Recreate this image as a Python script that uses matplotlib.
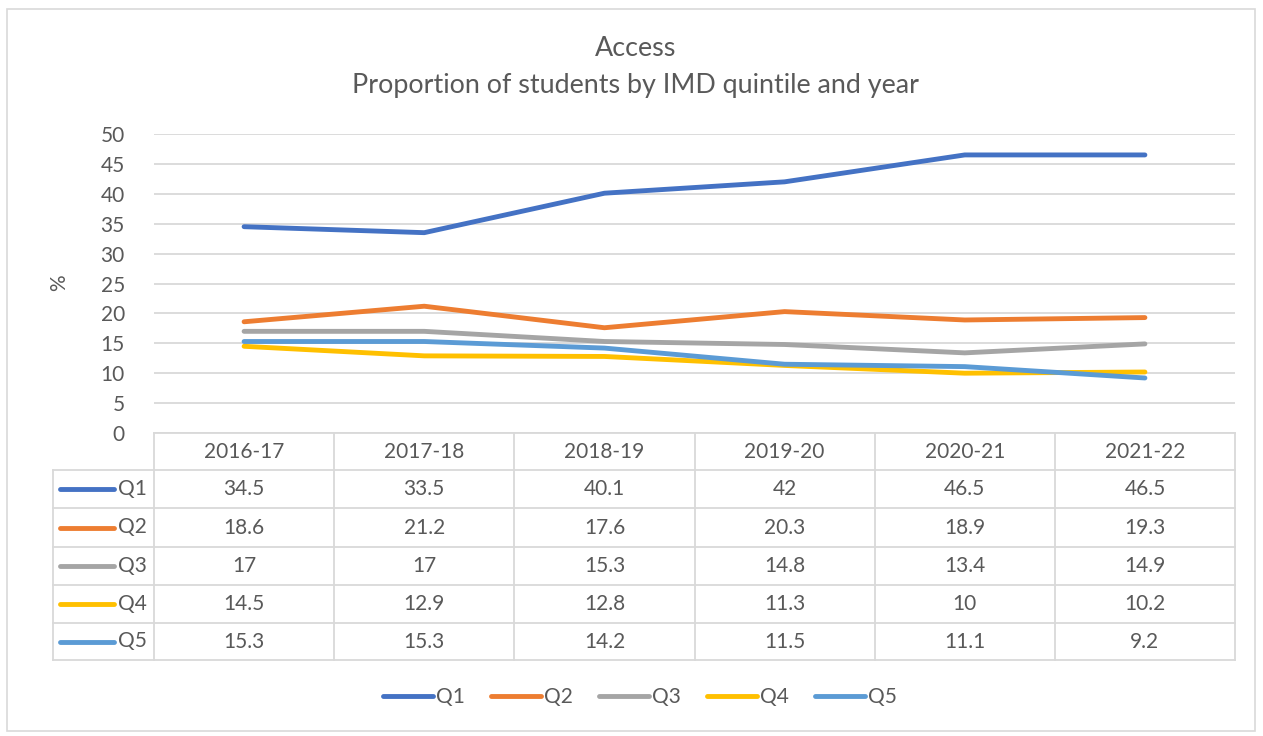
import matplotlib.pyplot as plt
from matplotlib.lines import Line2D
from matplotlib.patches import Rectangle

plt.rcParams['font.family'] = ['Lato', 'DejaVu Sans']

years = ["2016-17", "2017-18", "2018-19", "2019-20", "2020-21", "2021-22"]
series_names = ["Q1", "Q2", "Q3", "Q4", "Q5"]
q1 = [34.5, 33.5, 40.1, 42, 46.5, 46.5]
q2 = [18.6, 21.2, 17.6, 20.3, 18.9, 19.3]
q3 = [17, 17, 15.3, 14.8, 13.4, 14.9]
q4 = [14.5, 12.9, 12.8, 11.3, 10, 10.2]
q5 = [15.3, 15.3, 14.2, 11.5, 11.1, 9.2]
yticks = [0, 5, 10, 15, 20, 25, 30, 35, 40, 45, 50]

colors = ["#4472C4", "#ED7D31", "#A5A5A5", "#FFC000", "#5B9BD5"]
text_c = "#595959"
grid_c = "#D9D9D9"
fs = 15
lw_series = 3.5

W, H = 1263, 736
fig = plt.figure(figsize=(W / 100, H / 100), dpi=100)

def fx(px):
    return px / W

def fy(py):
    return 1 - py / H

# outer chart border
fig.patches.append(Rectangle((fx(7), fy(731)), fx(1255) - fx(7), fy(9) - fy(731),
                             transform=fig.transFigure, fill=False,
                             edgecolor=grid_c, linewidth=1.2))

left, right, top, bottom = 154, 1235, 134, 433
ax = fig.add_axes([fx(left), fy(bottom), fx(right) - fx(left), fy(top) - fy(bottom)])
ax.set_xlim(-0.5, len(years) - 0.5)
ax.set_ylim(0, 50)
ax.set_yticks(yticks)
ax.set_xticks([])
ax.yaxis.grid(True, color=grid_c, linewidth=1.3)
ax.set_axisbelow(True)
for s in ax.spines.values():
    s.set_visible(False)
ax.tick_params(axis='y', length=0, pad=21, labelsize=fs, labelcolor=text_c)

fig.text(fx(59), fy(283), "%", rotation=90, ha='center', va='center',
         fontsize=fs, color=text_c)

all_series = [q1, q2, q3, q4, q5]
for vals, c, name in zip(all_series, colors, series_names):
    ax.plot(range(len(years)), vals, color=c, linewidth=lw_series, solid_capstyle='round',
            label=name, zorder=3)

# title
fig.text(fx(636), fy(48), "Access", ha='center', va='center', fontsize=19.4, color=text_c)
fig.text(fx(636), fy(85), "Proportion of students by IMD quintile and year",
         ha='center', va='center', fontsize=19.4, color=text_c)

# data table
row_edges = [433, 470, 508, 547, 585, 623, 660]
tab_left = 53
col_w = (right - left) / len(years)
lw = 1.3

def hline(x0, x1, y):
    fig.add_artist(Line2D([fx(x0), fx(x1)], [fy(y), fy(y)], color=grid_c, linewidth=lw))

def vline(x, y0, y1):
    fig.add_artist(Line2D([fx(x), fx(x)], [fy(y0), fy(y1)], color=grid_c, linewidth=lw))

hline(left, right, row_edges[0])
for y in row_edges[1:]:
    hline(tab_left, right, y)
vline(tab_left, row_edges[1], row_edges[-1])
for i in range(len(years) + 1):
    vline(left + i * col_w, row_edges[0], row_edges[-1])

for i, yr in enumerate(years):
    cx = left + (i + 0.5) * col_w
    cy = (row_edges[0] + row_edges[1]) / 2
    fig.text(fx(cx), fy(cy), yr, ha='center', va='center', fontsize=fs, color=text_c)

for r, (vals, c, name) in enumerate(zip(all_series, colors, series_names)):
    cy = (row_edges[r + 1] + row_edges[r + 2]) / 2
    fig.add_artist(Line2D([fx(60), fx(114)], [fy(cy), fy(cy)], color=c, linewidth=lw_series,
                          solid_capstyle='round'))
    fig.text(fx(118), fy(cy), name, ha='left', va='center', fontsize=fs, color=text_c)
    for i, v in enumerate(vals):
        cx = left + (i + 0.5) * col_w
        fig.text(fx(cx), fy(cy), f"{v:g}", ha='center', va='center',
                 fontsize=fs, color=text_c)

# legend
handles = [Line2D([], [], color=c, linewidth=lw_series, solid_capstyle='round') for c in colors]
fig.legend(handles, series_names, loc='center', bbox_to_anchor=(fx(640), fy(697)),
           ncol=5, frameon=False, fontsize=fs, labelcolor=text_c,
           handlelength=2.4, handletextpad=0.15, columnspacing=1.25)

fig.savefig("out.png", dpi=100)
